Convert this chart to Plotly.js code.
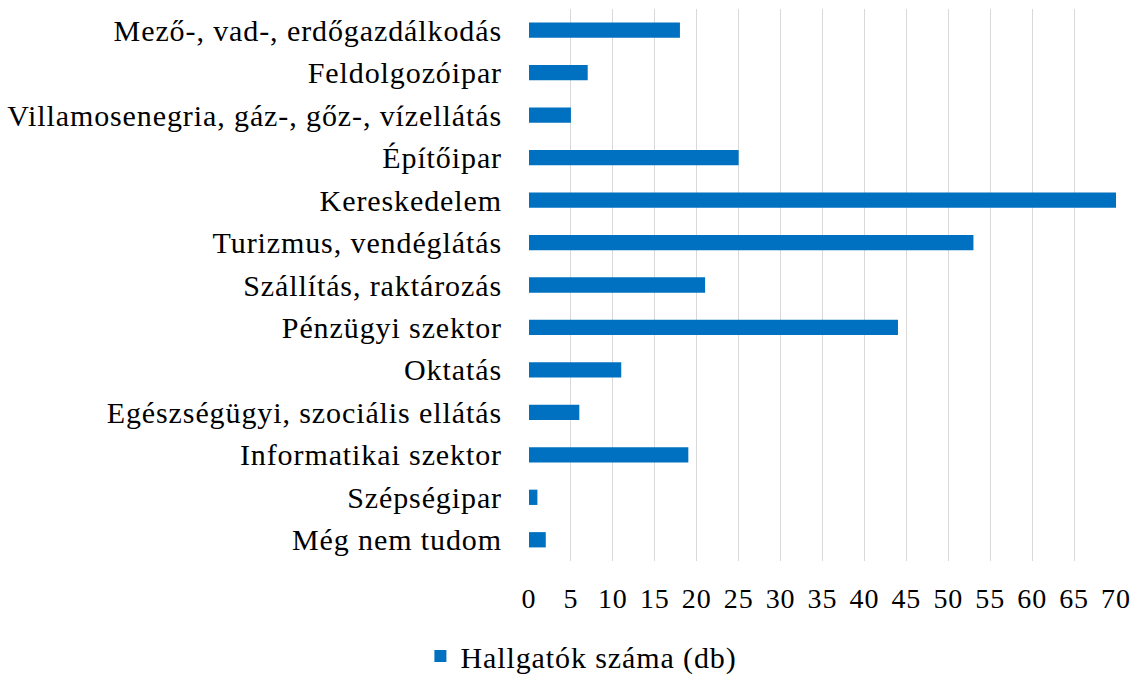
<!DOCTYPE html>
<html>
<head>
<meta charset="utf-8">
<script src="https://cdn.plot.ly/plotly-3.0.1.min.js"></script>
<style>
html,body{margin:0;padding:0;background:#fff;}
#chart{width:1140px;height:675px;}
svg text{letter-spacing:0.9px;}
</style>
</head>
<body>
<div id="chart"></div>
<script>
const categories = [
  "Mező-, vad-, erdőgazdálkodás",
  "Feldolgozóipar",
  "Villamosenegria, gáz-, gőz-, vízellátás",
  "Építőipar",
  "Kereskedelem",
  "Turizmus, vendéglátás",
  "Szállítás, raktározás",
  "Pénzügyi szektor",
  "Oktatás",
  "Egészségügyi, szociális ellátás",
  "Informatikai szektor",
  "Szépségipar",
  "Még nem tudom"
];
const values = [18, 7, 5, 25, 70, 53, 21, 44, 11, 6, 19, 1, 2];
const seriesName = "Hallgatók száma (db)";
const xTicks = [0, 5, 10, 15, 20, 25, 30, 35, 40, 45, 50, 55, 60, 65, 70];

const fam = "Liberation Serif, Times New Roman, serif";
const font = {family: fam, size: 30, color: "#000"};
const tickFont = {family: fam, size: 28, color: "#000"};

Plotly.newPlot("chart", [{
  type: "bar",
  orientation: "h",
  y: categories,
  x: values,
  name: seriesName,
  marker: {color: "#0070C0"},
  showlegend: true
}], {
  width: 1140,
  height: 675,
  margin: {l: 529, r: 24, t: 9, b: 114},
  paper_bgcolor: "#fff",
  plot_bgcolor: "#fff",
  font: font,
  bargap: 0.64,
  xaxis: {
    range: [0, 70],
    tickvals: xTicks,
    ticktext: xTicks.map(String),
    showgrid: true,
    gridcolor: "#d9d9d9",
    gridwidth: 1,
    zeroline: false,
    showline: false,
    ticks: "",
    ticklabelstandoff: 18,
    tickfont: tickFont,
    fixedrange: true
  },
  yaxis: {
    autorange: "reversed",
    showgrid: false,
    zeroline: false,
    showline: false,
    ticks: "",
    ticklabelstandoff: 26,
    tickfont: font,
    fixedrange: true
  },
  legend: {
    orientation: "h",
    xref: "container",
    yref: "container",
    x: 0.51,
    xanchor: "center",
    y: 0.028,
    yanchor: "middle",
    font: font
  }
}, {displayModeBar: false, staticPlot: true});
</script>
</body>
</html>
